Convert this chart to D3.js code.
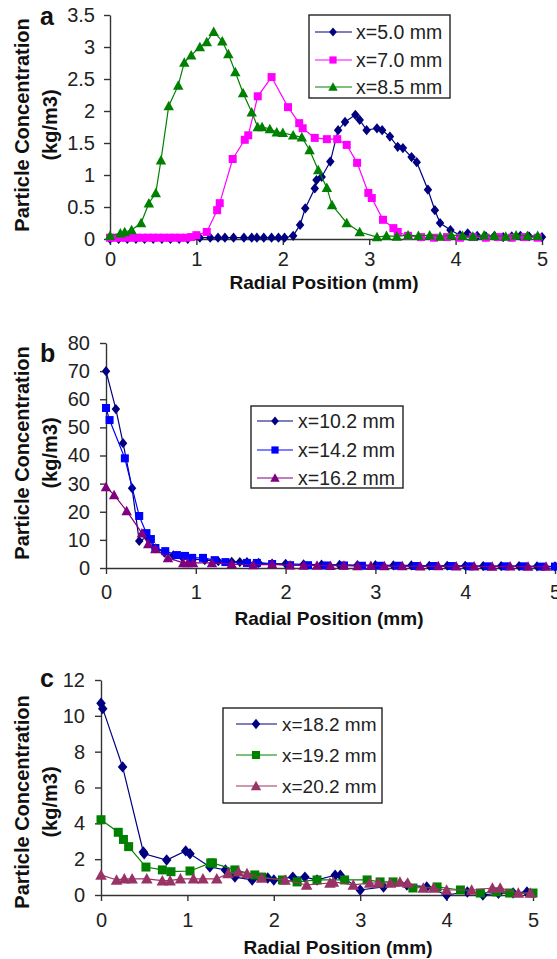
<!DOCTYPE html>
<html><head><meta charset="utf-8">
<script src="https://cdn.jsdelivr.net/npm/d3@7"></script>
<style>body{margin:0;background:#fff} svg{display:block}</style>
</head><body>
<svg id="chart" width="557" height="959"></svg>
<script>
// ---------- DATA ----------
const radialTicks = [0, 1, 2, 3, 4, 5];
const ticksA = [0, 0.5, 1, 1.5, 2, 2.5, 3, 3.5];
const ticksB = [0, 10, 20, 30, 40, 50, 60, 70, 80];
const ticksC = [0, 2, 4, 6, 8, 10, 12];

const labelsA = ["x=5.0 mm", "x=7.0 mm", "x=8.5 mm"];
const labelsB = ["x=10.2 mm", "x=14.2 mm", "x=16.2 mm"];
const labelsC = ["x=18.2 mm", "x=19.2 mm", "x=20.2 mm"];

// Panel a
const a50_r = [0,0.1,0.2,0.3,0.4,0.5,0.6,0.7,0.8,0.9,1.04,1.16,1.25,1.33,1.43,1.55,1.64,1.70,1.78,1.87,1.95,2.02,2.12,2.2,2.26,2.37,2.39,2.45,2.55,2.64,2.72,2.84,2.89,2.97,3.09,3.15,3.24,3.33,3.39,3.49,3.55,3.68,3.76,3.82,3.94,4.05,4.14,4.25,4.35,4.45,4.55,4.65,4.75,4.85,5.0];
const a50_c = [0,0,0,0,0,0,0,0,0,0,0.02,0.02,0.02,0.02,0.02,0.02,0.02,0.02,0.02,0.02,0.02,0.02,0.05,0.22,0.48,0.79,0.92,0.97,1.21,1.70,1.83,1.94,1.86,1.70,1.73,1.70,1.60,1.44,1.42,1.28,1.20,0.77,0.45,0.25,0.14,0.06,0.09,0.05,0.04,0.05,0.03,0.04,0.05,0.04,0.03];
const a70_r = [0,0.06,0.12,0.19,0.25,0.31,0.38,0.44,0.5,0.56,0.62,0.69,0.75,0.81,0.88,0.94,1.0,1.12,1.24,1.27,1.42,1.56,1.6,1.71,1.87,2.06,2.19,2.23,2.37,2.51,2.63,2.74,2.86,2.99,3.03,3.16,3.28,3.33,3.45,3.6,3.75,3.9,4.05,4.2,4.35,4.5,4.65,4.8,4.95];
const a70_c = [0.02,0.02,0.02,0.02,0.02,0.02,0.02,0.02,0.02,0.02,0.02,0.02,0.02,0.02,0.02,0.03,0.06,0.11,0.45,0.56,1.25,1.55,1.62,2.23,2.53,2.06,1.81,1.73,1.58,1.56,1.56,1.47,1.19,0.72,0.64,0.30,0.17,0.11,0.05,0.03,0.02,0.03,0.02,0.03,0.02,0.03,0.02,0.03,0.02];
const a85_r = [0,0.12,0.17,0.25,0.36,0.45,0.53,0.59,0.68,0.79,0.86,0.94,1.04,1.12,1.2,1.3,1.37,1.45,1.54,1.64,1.71,1.76,1.85,1.93,2.0,2.12,2.22,2.31,2.41,2.51,2.57,2.74,2.89,3.09,3.2,3.32,3.45,3.57,3.7,3.82,3.95,4.08,4.2,4.33,4.45,4.58,4.7,4.83,4.95];
const a85_c = [0.05,0.09,0.11,0.14,0.25,0.56,0.72,1.23,2.08,2.40,2.76,2.87,3.0,3.08,3.24,3.09,2.89,2.61,2.28,1.98,1.75,1.75,1.72,1.67,1.66,1.62,1.59,1.39,1.08,0.80,0.53,0.25,0.11,0.03,0.05,0.04,0.06,0.05,0.06,0.04,0.06,0.05,0.04,0.06,0.05,0.04,0.06,0.05,0.05];

// Panel b
const b102_r = [0,0.11,0.19,0.29,0.37,0.46,0.55,0.65,0.75,0.85,0.95,1.1,1.25,1.4,1.49,1.57,1.7,1.85,2.0,2.2,2.4,2.6,2.8,3.0,3.2,3.4,3.6,3.8,4.0,4.2,4.4,4.6,4.8,5.0];
const b102_c = [70,56.5,44.4,28.4,9.6,11,7,5.5,4.5,3.8,3.2,2.8,2.4,2.2,2.1,2.1,1.8,1.6,1.5,1.3,1.2,1.1,1.0,1.0,0.9,0.9,0.8,0.8,0.8,0.7,0.7,0.7,0.6,0.6];
const b142_r = [0,0.04,0.21,0.37,0.45,0.5,0.55,0.66,0.79,0.88,0.96,1.08,1.21,1.33,1.57,1.68,1.85,2.05,2.25,2.45,2.65,2.85,3.05,3.25,3.45,3.65,3.85,4.05,4.25,4.45,4.65,4.85,5.0];
const b142_c = [56.9,52.6,39,18.5,12.4,10.3,7.1,6,4.6,4.3,3.6,3.6,2.8,2.1,1.8,1.8,1.4,1.0,1.0,0.9,0.9,0.8,0.8,0.8,0.7,0.7,0.7,0.6,0.6,0.6,0.6,0.5,0.5];
const b162_r = [0,0.09,0.23,0.4,0.47,0.55,0.69,0.86,0.91,0.97,1.18,1.4,1.64,1.85,2.05,2.2,2.35,2.5,2.65,2.8,2.95,3.1,3.3,3.5,3.7,3.9,4.1,4.3,4.5,4.7,4.9];
const b162_c = [28.8,26,20.3,12.4,8.5,6.8,3.6,1.8,1.8,1.8,1.8,1.4,1.1,1.3,1.0,0.9,0.9,0.8,0.9,0.7,0.8,0.7,0.7,0.6,0.7,0.6,0.6,0.5,0.6,0.5,0.5];

// Panel c
const c182_r = [0,0.02,0.25,0.49,0.5,0.76,0.98,1.03,1.26,1.44,1.55,1.75,1.93,2.0,2.22,2.36,2.5,2.71,2.77,3.0,3.27,3.54,3.77,4.0,4.24,4.42,4.6,4.77,4.93];
const c182_c = [10.7,10.4,7.15,2.4,2.3,1.95,2.46,2.3,1.56,1.4,1.0,0.84,0.95,0.84,1.0,1.0,0.84,1.1,1.1,0.28,0.45,0.56,0.45,0.0,0.17,0.0,0.1,0.11,0.17];
const c192_r = [0,0.2,0.26,0.32,0.52,0.71,0.81,1.03,1.27,1.29,1.55,1.78,1.86,2.1,2.27,2.5,2.82,3.08,3.23,3.38,3.61,3.89,4.16,4.39,4.58,4.73,5.0];
const c192_c = [4.2,3.5,3.1,2.7,1.56,1.4,1.3,1.34,1.79,1.79,1.4,1.12,1.0,0.84,0.73,0.84,0.84,0.84,0.73,0.73,0.39,0.45,0.28,0.11,0.17,0.11,0.11];
const c202_r = [0,0.18,0.27,0.36,0.53,0.71,0.8,0.92,1.07,1.18,1.34,1.47,1.59,1.69,1.86,2.13,2.38,2.65,2.69,2.92,3.11,3.21,3.35,3.46,3.55,3.73,3.85,4.0,4.29,4.53,4.62,4.83,4.97];
const c202_c = [1.12,0.84,0.9,0.9,0.9,0.8,0.8,0.9,0.9,0.9,0.9,1.2,1.3,1.2,0.95,0.84,0.56,0.67,0.73,0.56,0.67,0.67,0.67,0.73,0.67,0.39,0.39,0.28,0.28,0.39,0.39,0.11,0.11];

// ---------- DRAWING ----------
const FONT = "'Liberation Sans', Arial, Helvetica, sans-serif";
const svg = d3.select("#chart");

const shapes = {
  diamond: s => `M0,${-s*0.6}L${s*0.5},0L0,${s*0.6}L${-s*0.5},0Z`,
  square: s => `M${-s*0.5},${-s*0.5}H${s*0.5}V${s*0.5}H${-s*0.5}Z`,
  triangle: s => `M0,${-s*0.55}L${s*0.55},${s*0.45}L${-s*0.55},${s*0.45}Z`
};

function panel(p) {
  const g = svg.append("g");
  const x = d3.scaleLinear().domain([0, 5]).range(p.xr);
  const y = d3.scaleLinear().domain([0, p.ymax]).range(p.yr);

  const xa = g.append("g").attr("transform", `translate(0,${p.yr[0]})`)
    .call(d3.axisBottom(x).tickValues(radialTicks).tickSize(6).tickSizeOuter(0)
      .tickPadding(p.xpad).tickFormat(d => String(d)));
  const ya = g.append("g").attr("transform", `translate(${p.xr[0]},0)`)
    .call(d3.axisLeft(y).tickValues(p.yticks).tickSize(6).tickSizeOuter(0)
      .tickPadding(p.ypad).tickFormat(d => String(d)));
  [xa, ya].forEach(a => {
    a.attr("font-family", FONT).attr("font-size", 20);
    a.selectAll("path.domain, line").attr("stroke", "#333").attr("stroke-width", 1.4);
    a.selectAll("text").attr("fill", "#222");
  });

  const yt = g.append("text").attr("font-family", FONT).attr("font-weight", "bold")
    .attr("font-size", 20).attr("fill", "#111").attr("text-anchor", "middle")
    .attr("transform", `rotate(-90)`);
  yt.append("tspan").attr("x", -p.ytCenter).attr("y", p.yt1).text("Particle Concentration");
  yt.append("tspan").attr("x", -p.ytCenter).attr("y", p.yt2).text("(kg/m3)");

  g.append("text").attr("font-family", FONT).attr("font-weight", "bold")
    .attr("font-size", 19).attr("fill", "#111").attr("text-anchor", "middle")
    .attr("x", p.xtX).attr("y", p.xtY).text("Radial Position (mm)");

  g.append("text").attr("font-family", FONT).attr("font-weight", "bold")
    .attr("font-size", 25).attr("fill", "#111")
    .attr("x", 40).attr("y", p.letterY).text(p.letter);

  const line = d3.line().x(d => x(d[0])).y(d => y(d[1]));
  p.series.forEach(s => {
    const pts = s.r.map((v, i) => [v, s.c[i]]);
    g.append("path").datum(pts).attr("d", line).attr("fill", "none")
      .attr("stroke", s.color).attr("stroke-width", 1.2);
    g.append("g").selectAll("path").data(pts).join("path")
      .attr("transform", d => `translate(${x(d[0])},${y(d[1])})`)
      .attr("d", shapes[s.shape](s.size)).attr("fill", s.color);
  });

  const L = p.legend;
  const lg = g.append("g");
  lg.append("rect").attr("x", L.x).attr("y", L.y).attr("width", L.w).attr("height", L.h)
    .attr("fill", "#fff").attr("stroke", "#222").attr("stroke-width", 1.4);
  p.series.forEach((s, i) => {
    const cy = L.rows[i];
    lg.append("line").attr("x1", L.l1).attr("x2", L.l2).attr("y1", cy).attr("y2", cy)
      .attr("stroke", s.color).attr("stroke-width", 1.2);
    lg.append("path").attr("transform", `translate(${L.m},${cy})`)
      .attr("d", shapes[s.shape](s.size * 0.9)).attr("fill", s.color);
    lg.append("text").attr("font-family", FONT).attr("font-size", L.fs).attr("fill", "#222")
      .attr("x", L.tx).attr("y", cy + 7).text(p.labels[i]);
  });
}

panel({
  letter: "a", letterY: 25,
  xr: [110, 542], yr: [239, 15], ymax: 3.5, yticks: ticksA, xpad: 7, ypad: 9,
  ytCenter: 125, yt1: 29, yt2: 57, xtX: 324, xtY: 289,
  labels: labelsA,
  series: [
    { r: a50_r, c: a50_c, color: "#000080", shape: "diamond", size: 8.5 },
    { r: a70_r, c: a70_c, color: "#FF00FF", shape: "square", size: 8 },
    { r: a85_r, c: a85_c, color: "#008000", shape: "triangle", size: 9.5 }
  ],
  legend: { x: 309, y: 15, w: 141, h: 83, rows: [32, 60, 87], l1: 315, l2: 352, m: 333, tx: 356, fs: 19.5 }
});

panel({
  letter: "b", letterY: 362,
  xr: [106, 555], yr: [568, 343], ymax: 80, yticks: ticksB, xpad: 11, ypad: 10,
  ytCenter: 453, yt1: 29, yt2: 57, xtX: 329, xtY: 625,
  labels: labelsB,
  series: [
    { r: b102_r, c: b102_c, color: "#000080", shape: "diamond", size: 8.5 },
    { r: b142_r, c: b142_c, color: "#0000FF", shape: "square", size: 8 },
    { r: b162_r, c: b162_c, color: "#800080", shape: "triangle", size: 9.5 }
  ],
  legend: { x: 251, y: 406, w: 152, h: 82, rows: [421, 450, 478], l1: 257, l2: 293, m: 275, tx: 298, fs: 19.5 }
});

panel({
  letter: "c", letterY: 687,
  xr: [101, 533], yr: [895, 680], ymax: 12, yticks: ticksC, xpad: 12, ypad: 10,
  ytCenter: 802, yt1: 29, yt2: 57, xtX: 338, xtY: 954,
  labels: labelsC,
  series: [
    { r: c182_r, c: c182_c, color: "#000080", shape: "diamond", size: 9.5 },
    { r: c192_r, c: c192_c, color: "#008000", shape: "square", size: 9 },
    { r: c202_r, c: c202_c, color: "#993366", shape: "triangle", size: 10.5 }
  ],
  legend: { x: 223, y: 708, w: 159, h: 95, rows: [724, 755, 786], l1: 236, l2: 277, m: 256, tx: 282, fs: 19 }
});
</script>
</body></html>
